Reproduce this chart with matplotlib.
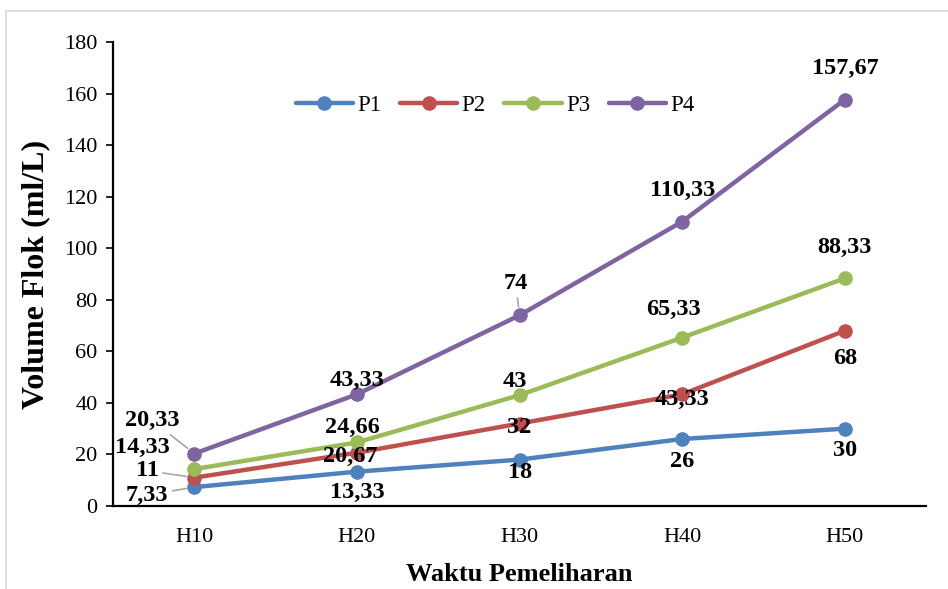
import matplotlib.pyplot as plt
from matplotlib.patches import Rectangle

plt.rcParams["font.family"] = ["Liberation Serif", "DejaVu Serif"]

days = ["H10", "H20", "H30", "H40", "H50"]
p1 = [7.33, 13.33, 18, 26, 30]
p2 = [11, 20.67, 32, 43.33, 68]
p3 = [14.33, 24.66, 43, 65.33, 88.33]
p4 = [20.33, 43.33, 74, 110.33, 157.67]

series = [
    ("P1", p1, "#4F81BD"),
    ("P2", p2, "#C0504D"),
    ("P3", p3, "#9BBB59"),
    ("P4", p4, "#8064A2"),
]

# label offsets in pixels (dx, dy) for each point
offsets = {
    "P1": [(-47, -8), (0, -21), (0, -13), (0, -23), (0, -22)],
    "P2": [(-47, 7), (-7, -4), (0, -4), (0, -5), (0, -28)],
    "P3": [(-52, 22), (-5, 15), (-5, 14), (-9, 28), (0, 31)],
    "P4": [(-42, 33), (0, 14), (-4, 32), (0, 31), (0, 31)],
}
# points whose label gets a grey leader line
leaders = {("P1", 0), ("P2", 0), ("P4", 0), ("P4", 2)}

fig = plt.figure(figsize=(9.48, 5.89), dpi=100)
ax = fig.add_axes([0.1192, 0.1409, 0.8578, 0.7878])

# light chart-area border
fig.patches.append(Rectangle((6 / 948, -0.1), 1.2, 1.1 - 11 / 589,
                             transform=fig.transFigure, fill=False,
                             edgecolor="#D9D9D9", linewidth=1.2))

x = list(range(len(days)))
for name, vals, color in series:
    ax.plot(x, vals, color=color, linewidth=3.2, marker="o", markersize=9.5,
            label=name, solid_capstyle="round")
    for i, v in enumerate(vals):
        dx, dy = offsets[name][i]
        text = f"{v:g}".replace(".", ",")
        arrow = None
        if (name, i) in leaders:
            arrow = dict(arrowstyle="-", color="#A6A6A6", lw=1.2,
                         shrinkA=1, shrinkB=6)
        ax.annotate(text, (i, v), xytext=(dx, dy), textcoords="offset pixels",
                    ha="center", va="center", fontsize=17.5, fontweight="bold",
                    arrowprops=arrow)

ax.set_xlim(-0.5, 4.5)
ax.set_ylim(0, 180)
ax.set_yticks(range(0, 181, 20))
ax.set_xticks(x)
ax.set_xticklabels(days)
ax.tick_params(axis="y", labelsize=16, length=5, width=1.2, direction="out", pad=6)
ax.tick_params(axis="x", labelsize=16, length=0, pad=16)

for side in ("top", "right"):
    ax.spines[side].set_visible(False)
for side in ("left", "bottom"):
    ax.spines[side].set_linewidth(1.6)

ax.set_ylabel("Volume Flok (ml/L)", fontsize=23, fontweight="bold", labelpad=10)
ax.set_xlabel("Waktu Pemeliharan", fontsize=19, fontweight="bold", labelpad=11)

ax.legend(loc="center", bbox_to_anchor=(0.47, 0.864), ncol=4, frameon=False,
          fontsize=16.5, handlelength=2.5, columnspacing=0.8, handletextpad=0.2)

fig.savefig("out.png", dpi=100)
plt.close(fig)
